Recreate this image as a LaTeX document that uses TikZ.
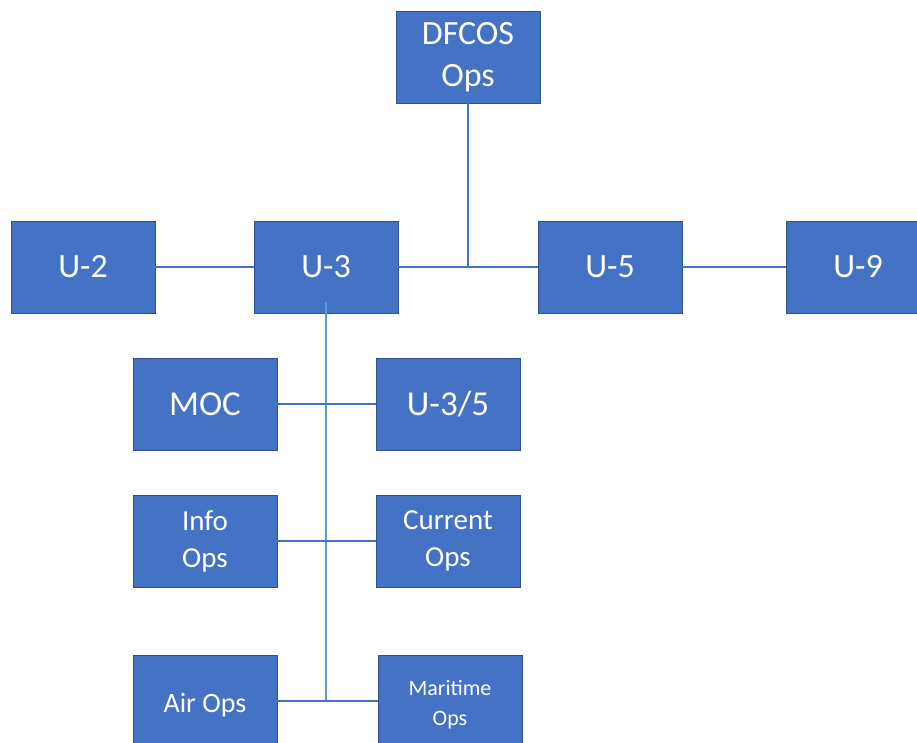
\documentclass[tikz,border=0pt]{standalone}
\usepackage{fontspec}
\setmainfont{Carlito}
\definecolor{boxblue}{HTML}{4472C4}
\definecolor{boxedge}{HTML}{2F528F}
\definecolor{spineblue}{HTML}{5B9BD5}
\tikzset{
  unit/.style={rectangle,fill=boxblue,draw=boxedge,line width=0.8pt,
    minimum width=144pt,minimum height=92pt,inner sep=0pt,
    text=white,align=center},
  link/.style={draw=boxblue,line width=1.2pt}
}
\begin{document}
\begin{tikzpicture}[x=1pt,y=-1pt]

   \useasboundingbox (0,0) rectangle (917,742);

   \node[unit,font=\fontsize{34}{42}\selectfont] (dfcos) at (468,57) {DFCOS\\Ops};
   \node[unit,font=\fontsize{34}{40}\selectfont] (u2) at (83,267) {U-2};
   \node[unit,font=\fontsize{34}{40}\selectfont] (u3) at (326,267) {U-3};
   \node[unit,font=\fontsize{34}{40}\selectfont] (u5) at (610,267) {U-5};
   \node[unit,font=\fontsize{34}{40}\selectfont] (u9) at (858,267) {U-9};

   \node[unit,font=\fontsize{35}{40}\selectfont] (moc) at (205,404) {MOC};
   \node[unit,font=\fontsize{35}{40}\selectfont] (u35) at (448,404) {U-3/5};
   \node[unit,font=\fontsize{29}{37}\selectfont] (info) at (205,541) {Info\\Ops};
   \node[unit,font=\fontsize{29}{37}\selectfont] (cur) at (448,541) {Current\\Ops};
   \node[unit,minimum height=100pt,font=\fontsize{28}{34}\selectfont] (air) at (205,705) {Air Ops};
   \node[unit,minimum height=100pt,font=\fontsize{22}{30}\selectfont] (mar) at (450,705) {Maritime\\Ops};

   \coordinate (spine) at (326,701);
   \draw[spineblue,line width=1.6pt] ([yshift=11pt]u3.south)--(spine);

   \draw[link] (u2.east)--(u3.west);
   \draw[link] (u3.east)--(u5.west);
   \draw[link] (u5.east)--(u9.west);
   \draw[link] (dfcos.south)--(dfcos.south |- u3.east);

   \draw[link] (moc.east)--(u35.west);
   \draw[link] (info.east)--(cur.west);
   \draw[link] (air.east |- spine)--(mar.west |- spine);

\end{tikzpicture}
\end{document}
